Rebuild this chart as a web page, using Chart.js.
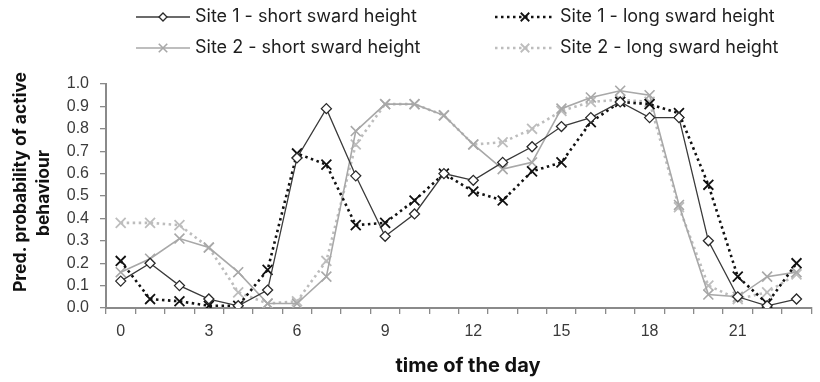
<!DOCTYPE html>
<html>
<head>
<meta charset="utf-8">
<script src="https://cdn.jsdelivr.net/npm/chart.js@4/dist/chart.umd.min.js"></script>
<style>
  html, body { margin: 0; padding: 0; background: #fff; }
  #wrap { width: 820px; height: 382px; }
</style>
</head>
<body>
<div id="wrap"><canvas id="c" width="820" height="382"></canvas></div>
<script>
// Hours of the day (categories) and predicted probability of active behaviour
const hours = [0,1,2,3,4,5,6,7,8,9,10,11,12,13,14,15,16,17,18,19,20,21,22,23];
const yTicks = [0,0.1,0.2,0.3,0.4,0.5,0.6,0.7,0.8,0.9,1.0];
const yTitleLines = ['Pred. probability of active', 'behaviour'];
const xTitle = 'time of the day';

const site1Short = [0.12,0.20,0.10,0.04,0.01,0.08,0.67,0.89,0.59,0.32,0.42,0.60,0.57,0.65,0.72,0.81,0.85,0.92,0.85,0.85,0.30,0.05,0.01,0.04];
const site1Long  = [0.21,0.04,0.03,0.01,0.01,0.17,0.69,0.64,0.37,0.38,0.48,0.60,0.52,0.48,0.61,0.65,0.83,0.92,0.91,0.87,0.55,0.14,0.02,0.20];
const site2Short = [0.16,0.22,0.31,0.27,0.16,0.02,0.02,0.14,0.79,0.91,0.91,0.86,0.73,0.62,0.65,0.89,0.94,0.97,0.95,0.46,0.06,0.05,0.14,0.16];
const site2Long  = [0.38,0.38,0.37,0.27,0.07,0.02,0.03,0.21,0.73,0.91,0.91,0.86,0.73,0.74,0.80,0.88,0.92,0.93,0.92,0.45,0.10,0.04,0.07,0.15];

const TICK_FONT = '"Liberation Sans", Arial, Helvetica, sans-serif';
const TEXT_FONT = 'Inter, "Liberation Sans", Arial, sans-serif';

// 2 x 2 legend above the plot, styled from each dataset
const gridLegend = {
  id: 'gridLegend',
  afterDraw(chart) {
    const ctx = chart.ctx;
    const slots = [
      { x: 136, y: 17, len: 54 },
      { x: 495, y: 17, len: 60 },
      { x: 136, y: 48, len: 54 },
      { x: 495, y: 48, len: 60 }
    ];
    chart.data.datasets.forEach((ds, i) => {
      const s = slots[i];
      ctx.save();
      ctx.strokeStyle = ds.borderColor;
      ctx.lineWidth = ds.borderWidth;
      ctx.setLineDash(ds.borderDash || []);
      ctx.beginPath();
      ctx.moveTo(s.x, s.y);
      ctx.lineTo(s.x + s.len, s.y);
      ctx.stroke();
      ctx.setLineDash([]);
      ctx.strokeStyle = ds.pointBorderColor;
      ctx.fillStyle = ds.pointBackgroundColor;
      ctx.lineWidth = ds.pointBorderWidth;
      Chart.helpers.drawPoint(ctx, {
        pointStyle: ds.pointStyle,
        radius: ds.pointRadius - 1,
        rotation: 0,
        borderWidth: ds.pointBorderWidth
      }, s.x + s.len / 2, s.y);
      ctx.fillStyle = '#1e1e1e';
      ctx.font = '18px ' + TEXT_FONT;
      ctx.textBaseline = 'middle';
      ctx.textAlign = 'left';
      ctx.fillText(ds.label, s.x + s.len + 5, s.y);
      ctx.restore();
    });
  }
};

// Axis titles: rotated two-line y title and the x title under the tick labels
const axisTitles = {
  id: 'axisTitles',
  afterDraw(chart) {
    const ctx = chart.ctx;
    const spots = [{ x: 21, y: 182 }, { x: 44, y: 193 }];
    ctx.save();
    ctx.fillStyle = '#111';
    ctx.textAlign = 'center';
    ctx.textBaseline = 'middle';
    ctx.font = 'bold 17.5px ' + TEXT_FONT;
    yTitleLines.forEach((t, i) => {
      ctx.save();
      ctx.translate(spots[i].x, spots[i].y);
      ctx.rotate(-Math.PI / 2);
      ctx.fillText(t, 0, 0);
      ctx.restore();
    });
    ctx.font = 'bold 20px ' + TEXT_FONT;
    ctx.fillText(xTitle, 468, 366);
    ctx.restore();
  }
};

new Chart(document.getElementById('c'), {
  type: 'line',
  data: {
    labels: hours,
    datasets: [
      {
        label: 'Site 1 - short sward height',
        data: site1Short,
        borderColor: '#3a3a3a', borderWidth: 1.3,
        pointStyle: 'rectRot', pointRadius: 5, pointBorderWidth: 1.3,
        pointBorderColor: '#2a2a2a', pointBackgroundColor: '#ffffff',
        tension: 0
      },
      {
        label: 'Site 1 - long sward height',
        data: site1Long,
        borderColor: '#111111', borderWidth: 2.6, borderDash: [2.5, 3.5],
        pointStyle: 'crossRot', pointRadius: 7, pointBorderWidth: 1.8,
        pointBorderColor: '#111111', pointBackgroundColor: '#111111',
        tension: 0
      },
      {
        label: 'Site 2 - short sward height',
        data: site2Short,
        borderColor: '#a8a8a8', borderWidth: 1.6,
        pointStyle: 'crossRot', pointRadius: 7, pointBorderWidth: 1.6,
        pointBorderColor: '#a8a8a8', pointBackgroundColor: '#a8a8a8',
        tension: 0
      },
      {
        label: 'Site 2 - long sward height',
        data: site2Long,
        borderColor: '#bdbdbd', borderWidth: 2.6, borderDash: [2.5, 3.5],
        pointStyle: 'crossRot', pointRadius: 7, pointBorderWidth: 1.8,
        pointBorderColor: '#bdbdbd', pointBackgroundColor: '#bdbdbd',
        tension: 0
      }
    ]
  },
  options: {
    responsive: false,
    animation: false,
    devicePixelRatio: 1,
    layout: { padding: { top: 84, right: 0, bottom: 0, left: 0 } },
    plugins: { legend: { display: false }, tooltip: { enabled: false } },
    scales: {
      x: {
        type: 'category',
        offset: true,
        afterFit(scale) { scale.height = 74; },
        grid: { offset: true, drawOnChartArea: false, drawTicks: true, tickLength: 6, color: '#8a8a8a', lineWidth: 1.3 },
        border: { display: true, color: '#8a8a8a', width: 2 },
        ticks: {
          autoSkip: false, maxRotation: 0, padding: 8,
          color: '#3a3a3a', font: { family: TICK_FONT, size: 16 },
          callback(v, i) { return hours[i] % 3 === 0 ? String(hours[i]) : ''; }
        },
        title: { display: false }
      },
      y: {
        min: 0, max: 1,
        afterFit(scale) { scale.width = 106; },
        afterBuildTicks(scale) { scale.ticks = yTicks.map(v => ({ value: v })); },
        grid: { drawOnChartArea: false, drawTicks: true, tickLength: 6, color: '#8a8a8a', lineWidth: 1.3 },
        border: { display: true, color: '#8a8a8a', width: 2 },
        ticks: {
          padding: 11, color: '#3a3a3a', font: { family: TICK_FONT, size: 16 },
          callback(v) { return Number(v).toFixed(1); }
        },
        title: { display: false }
      }
    }
  },
  plugins: [gridLegend, axisTitles]
});
</script>
</body>
</html>
